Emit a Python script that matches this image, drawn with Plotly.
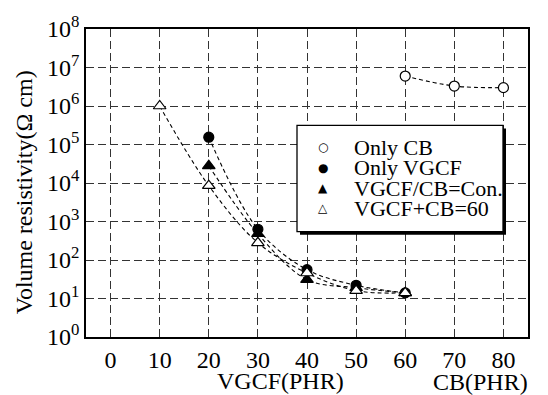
import plotly.graph_objects as go

# ---- data ----
cb_x = [60, 70, 80]
cb_y = [6.0e6, 3.3e6, 3.0e6]

vgcf_x = [20, 30, 40, 50, 60]
vgcf_y = [1.55e5, 630, 56, 22, 14]

con_x = [20, 30, 40, 50, 60]
con_y = [2.8e4, 480, 31, 19, 14]

sum_x = [10, 20, 30, 40, 50, 60]
sum_y = [1.0e6, 8500, 280, 46, 16, 14]

x_ticks = [0, 10, 20, 30, 40, 50, 60, 70, 80]
y_exps = [0, 1, 2, 3, 4, 5, 6, 7, 8]

legend_names = ["Only CB", "Only VGCF", "VGCF/CB=Con.", "VGCF+CB=60"]
legend_syms = ["○", "●", "▲", "△"]

FONT = "Times New Roman, Liberation Serif, serif"

fig = go.Figure()

series = [
    (con_x, con_y, "triangle-up", "black", "VGCF/CB=Con."),
    (vgcf_x, vgcf_y, "circle", "black", "Only VGCF"),
    (sum_x, sum_y, "triangle-up", "white", "VGCF+CB=60"),
    (cb_x, cb_y, "circle", "white", "Only CB"),
]
for xs, ys, sym, fill, name in series:
    fig.add_trace(go.Scatter(
        x=xs, y=ys, mode="lines", name=name, showlegend=False,
        line=dict(color="black", width=1.1, dash="4px,3px", shape="spline", smoothing=1.0),
    ))
for xs, ys, sym, fill, name in series:
    fig.add_trace(go.Scatter(
        x=xs, y=ys, mode="markers", name=name, showlegend=False,
        marker=dict(symbol=sym, size=10 if sym == "circle" else 11, color=fill,
                    line=dict(color="black", width=1.2)),
    ))

grid = dict(showgrid=True, gridcolor="#333333", gridwidth=1.4, griddash="8px,4px")

fig.update_xaxes(
    range=[-5, 85], tickvals=x_ticks, ticktext=[str(v) for v in x_ticks],
    showline=True, linecolor="black", linewidth=1.5, mirror=True,
    ticks="", zeroline=False,
    tickfont=dict(family=FONT, size=24, color="black"), **grid,
)
fig.update_yaxes(
    type="log", range=[0, 8],
    tickvals=[10 ** e for e in y_exps],
    ticktext=[f"10<sup>{e}</sup>" for e in y_exps],
    showline=True, linecolor="black", linewidth=1.5, mirror=True,
    ticks="", zeroline=False,
    tickfont=dict(family=FONT, size=24, color="black"), **grid,
)

L, R, T, B = 86, 20, 24, 58
W, H = 548, 395
pw, ph = W - L - R, H - T - B

def px(x):
    return (x - L) / pw

def py(y):
    return (H - B - y) / ph

# legend box with shadow
fig.add_shape(type="rect", xref="paper", yref="paper",
              x0=px(300), x1=px(506), y0=py(233), y1=py(125),
              fillcolor="black", line=dict(width=0), layer="above")
fig.add_shape(type="rect", xref="paper", yref="paper",
              x0=px(297), x1=px(503), y0=py(230), y1=py(122),
              fillcolor="white", line=dict(color="black", width=1.3), layer="above")

rows = [144, 165, 186, 206]
for name, sym, ry in zip(legend_names, legend_syms, rows):
    fig.add_annotation(xref="paper", yref="paper", x=px(352), y=py(ry),
                       xanchor="left", yanchor="middle", showarrow=False,
                       text=name, font=dict(family=FONT, size=22, color="black"))
    fig.add_annotation(xref="paper", yref="paper", x=px(323), y=py(ry),
                       xanchor="center", yanchor="middle", showarrow=False,
                       text=sym, font=dict(family="DejaVu Sans", size=12, color="black"))

# axis titles
fig.add_annotation(xref="paper", yref="paper", x=px(280), y=py(382),
                   xanchor="center", yanchor="middle", showarrow=False,
                   text="VGCF(PHR)", font=dict(family=FONT, size=24, color="black"))
fig.add_annotation(xref="paper", yref="paper", x=px(480), y=py(383),
                   xanchor="center", yanchor="middle", showarrow=False,
                   text="CB(PHR)", font=dict(family=FONT, size=24, color="black"))
fig.add_annotation(xref="paper", yref="paper", x=px(24), y=py(190),
                   xanchor="center", yanchor="middle", showarrow=False, textangle=-90,
                   text="Volume resistivity(Ω cm)", font=dict(family=FONT, size=24, color="black"))

fig.update_layout(
    width=W, height=H,
    margin=dict(l=L, r=R, t=T, b=B, pad=0),
    paper_bgcolor="white", plot_bgcolor="white",
    showlegend=False,
)

fig.write_html("out.html")
